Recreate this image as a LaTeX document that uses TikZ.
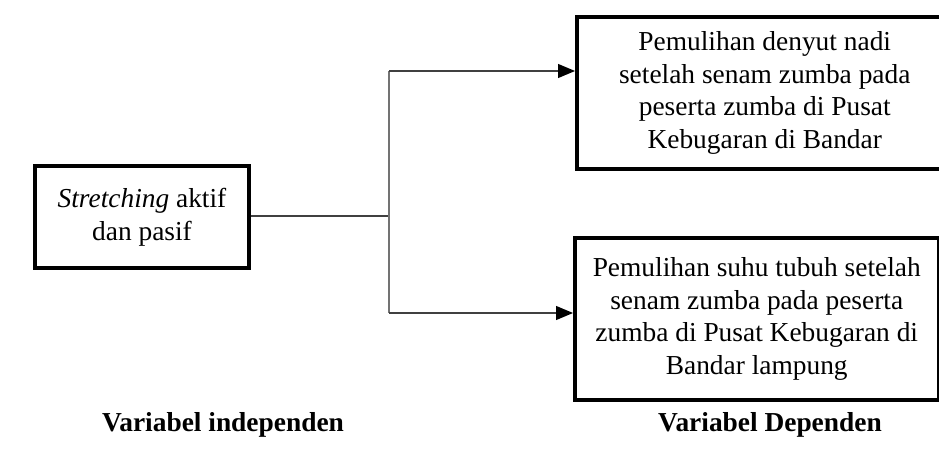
\documentclass[tikz,border=0pt]{standalone}
\usepackage{fontspec}
\setmainfont{Liberation Serif}
\usetikzlibrary{arrows.meta}
\tikzset{
  box/.style={draw=black, line width=3.5pt, align=center, inner sep=0pt,
    font=\fontsize{27.4}{32.7}\selectfont},
  conn/.style={draw=black!75, line width=1.2pt},
  vconn/.style={draw=black!55, line width=2pt},
  arr/.style={conn, -{Triangle[length=17pt,width=14pt,color=black]}},
  lbl/.style={font=\fontsize{27.4}{32.7}\selectfont\bfseries, inner sep=0pt}
}
\begin{document}
\begin{tikzpicture}[x=1pt,y=-1pt]
\clip (0,0) rectangle (939,449);
\fill[white] (0,0) rectangle (939,449);
\node[box, minimum width=214pt, minimum height=102pt] (lb) at (142,217)
  {\textit{Stretching} aktif\\dan pasif};
\node[box, minimum width=376pt, minimum height=152pt, anchor=west] (tb) at (575,93)
  {Pemulihan denyut nadi\\setelah senam zumba pada\\peserta zumba di Pusat\\Kebugaran di Bandar};
\node[box, minimum width=364pt, minimum height=162pt, anchor=west] (bb) at (573,319)
  {Pemulihan suhu tubuh setelah\\senam zumba pada peserta\\zumba di Pusat Kebugaran di\\Bandar lampung};
\coordinate (jm) at (389,216);
\coordinate (jt) at (389,71);
\coordinate (jb) at (389,313);
\draw[conn] (lb.east |- jm) -- (jm);
\draw[vconn] (jt) -- (jb);
\draw[arr] (jt) -- (jt -| tb.west);
\draw[arr] (jb) -- (jb -| bb.west);
\node[lbl] (li) at (223,425) {Variabel independen};
\node[lbl] (ld) at (770,425) {Variabel Dependen};
\end{tikzpicture}
\end{document}
